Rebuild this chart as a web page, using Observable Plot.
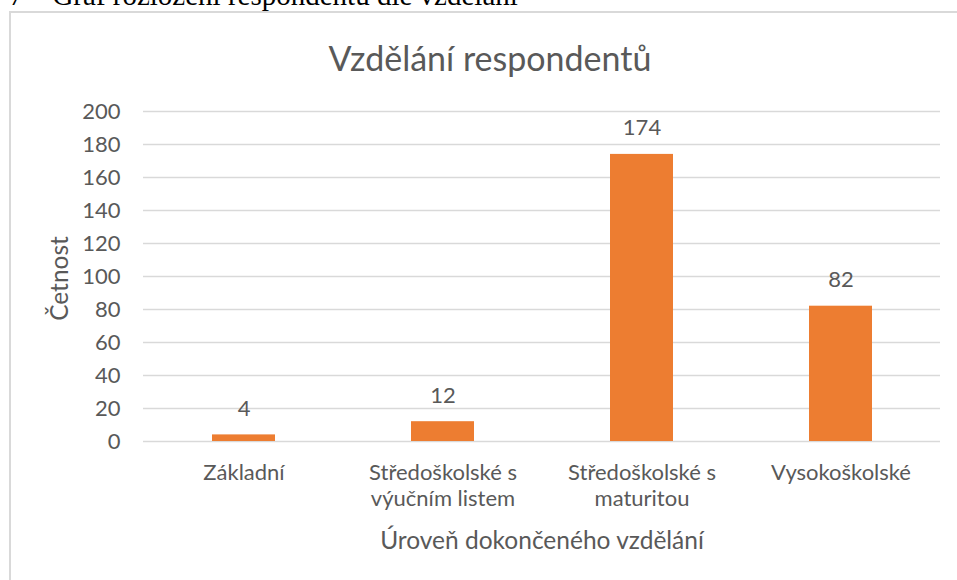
<!DOCTYPE html>
<html>
<head>
<meta charset="utf-8">
<script src="https://cdn.jsdelivr.net/npm/d3@7"></script>
<script src="https://cdn.jsdelivr.net/npm/@observablehq/plot@0.6"></script>
<style>
  html, body { margin: 0; padding: 0; background: #fff; width: 957px; height: 580px; overflow: hidden; position: relative; }
  #caption { position: absolute; left: -8px; top: -21px; font-family: "Liberation Serif", serif; font-size: 29px; color: #000; white-space: nowrap; }
  #frame { position: absolute; left: 9px; top: 11px; width: 1000px; height: 700px; border-left: 2px solid #d9d9d9; border-top: 2px solid #d9d9d9; }
  #title { position: relative; height: 90px; }
  #title span { position: absolute; left: 490px; top: 57px; transform: translate(-50%, -50%); font-family: Lato, sans-serif; font-size: 34px; color: #595959; white-space: nowrap; }
  #chart { position: relative; }
</style>
</head>
<body>
<div id="caption">r 7 – Graf rozložení respondentů dle vzdělání</div>
<div id="frame"></div>
<div id="title"><span>Vzdělání respondentů</span></div>
<div id="chart"></div>
<script>
const categories = ["Základní", "Středoškolské s výučním listem", "Středoškolské s maturitou", "Vysokoškolské"];
const counts = [4, 12, 174, 82];
const tickLabels = ["Základní", "Středoškolské s\nvýučním listem", "Středoškolské s\nmaturitou", "Vysokoškolské"];
const yTicks = [0, 20, 40, 60, 80, 100, 120, 140, 160, 180, 200];

const data = categories.map((c, i) => ({category: c, count: counts[i]}));
const labelOf = new Map(categories.map((c, i) => [c, tickLabels[i]]));

const textColor = "#595959";
const font = "Lato, sans-serif";

const plot = Plot.plot({
  width: 957,
  height: 490,
  marginTop: 21,
  marginBottom: 139,
  marginLeft: 143,
  marginRight: 17,
  style: { fontFamily: font, fontSize: "22px", color: textColor, background: "transparent" },
  x: { domain: categories, paddingInner: 0.684, paddingOuter: 0.342, label: null },
  y: { domain: [0, 200], label: null },
  marks: [
    Plot.ruleY(yTicks, { stroke: "#d9d9d9", strokeWidth: 1.5 }),
    Plot.axisY({ ticks: yTicks, tickSize: 0, tickPadding: 23, label: null, fontSize: 22, fill: textColor }),
    Plot.axisX({ tickSize: 0, tickPadding: 20, label: null, fontSize: 22, fill: textColor, tickFormat: d => labelOf.get(d), lineHeight: 1.18 }),
    Plot.barY(data, { x: "category", y: "count", fill: "#ED7D31" }),
    Plot.text(data, { x: "category", y: "count", text: d => String(d.count), dy: -26, fontSize: 22, fill: textColor }),
    Plot.text(["Četnost"], { frameAnchor: "left", textAnchor: "middle", dx: -83, dy: 2, rotate: -90, fontSize: 24.5, fill: textColor }),
    Plot.text(["Úroveň dokončeného vzdělání"], { frameAnchor: "bottom", dy: 107, fontSize: 24.5, fill: textColor })
  ]
});
document.getElementById("chart").appendChild(plot);
</script>
</body>
</html>
